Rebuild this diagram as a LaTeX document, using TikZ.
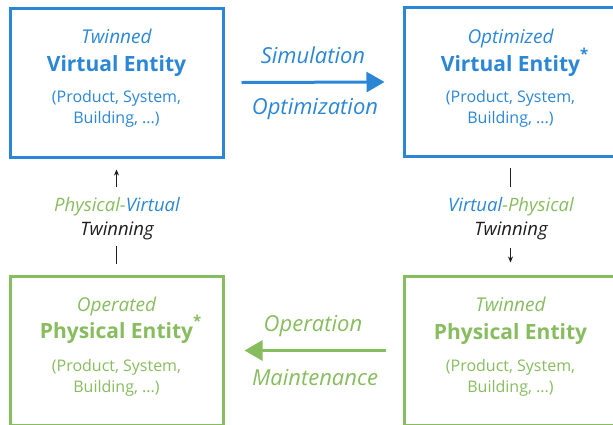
\documentclass[tikz,border=0pt]{standalone}
\usepackage{fontspec}
\setmainfont{Open Sans}
\usetikzlibrary{arrows.meta}
\definecolor{vblue}{RGB}{43,135,214}
\definecolor{pgreen}{RGB}{135,188,95}
\definecolor{ink}{RGB}{30,30,30}
\newcommand{\astmark}{\rlap{\smash{\raisebox{12pt}{\fontsize{15}{15}\selectfont\bfseries *}}}}
\begin{document}
\begin{tikzpicture}[x=1pt,y=-1pt,
 entbox/.style={draw, line width=3pt, minimum width=213pt, minimum height=149pt, inner sep=0pt},
 qual/.style={font=\fontsize{19}{22}\selectfont\itshape, inner sep=0pt, anchor=base},
 title/.style={font=\fontsize{21}{25}\selectfont\bfseries, inner sep=0pt, anchor=base},
 kinds/.style={font=\fontsize{16}{20.5}\selectfont, align=center, inner sep=0pt},
 flowlbl/.style={font=\fontsize{22}{25}\selectfont\itshape, inner sep=0pt, anchor=base},
 twinlbl/.style={font=\fontsize{18.5}{24}\selectfont\itshape, align=center, inner sep=0pt, text=ink},
 bigarrow/.style={line width=3pt, -{Triangle[length=18pt,width=20pt]}},
 smallarrow/.style={line width=0.8pt, ink, -{Stealth[length=6pt,width=5pt]}},
 smallline/.style={line width=0.8pt, ink},
]
\useasboundingbox (0,0) rectangle (613,424);
\clip (0,0) rectangle (613,424);
% boxes
\node[entbox, draw=vblue] (tl) at (116.5,82.5) {};
\node[entbox, draw=vblue] (tr) at (510.5,82) {};
\node[entbox, draw=pgreen] (bl) at (116.5,350.5) {};
\node[entbox, draw=pgreen] (br) at (510.5,350.5) {};
% top-left text
\node[qual, text=vblue] (tlq) at (116.5,43.5) {Twinned};
\node[title, text=vblue] (tlt) at (116.5,71) {Virtual Entity};
\node[kinds, text=vblue] (tlk) at (116.5,109) {(Product, System,\\Building, ...)};
% top-right text
\node[qual, text=vblue] (trq) at (510.5,43.5) {Optimized};
\node[title, text=vblue] (trt) at (510.5,71) {Virtual Entity\astmark};
\node[kinds, text=vblue] (trk) at (510.5,109) {(Product, System,\\Building, ...)};
% bottom-left text
\node[qual, text=pgreen] (blq) at (116.5,311.5) {Operated};
\node[title, text=pgreen] (blt) at (116.5,338.5) {Physical Entity\astmark};
\node[kinds, text=pgreen] (blk) at (116.5,378) {(Product, System,\\Building, ...)};
% bottom-right text
\node[qual, text=pgreen] (brq) at (510.5,311.5) {Twinned};
\node[title, text=pgreen] (brt) at (510.5,339) {Physical Entity};
\node[kinds, text=pgreen] (brk) at (510.5,378) {(Product, System,\\Building, ...)};
% horizontal arrows
\draw[bigarrow, vblue] ([xshift=17pt]tl.east) -- ([xshift=-18pt]tr.west);
\node[flowlbl, text=vblue] (sim) at (313,63) {Simulation};
\node[flowlbl, text=vblue] (opt) at (315,114) {Optimization};
\draw[bigarrow, pgreen] ([xshift=-17pt]br.west) -- ([xshift=20pt]bl.east);
\node[flowlbl, text=pgreen] (oper) at (313,331) {Operation};
\node[flowlbl, text=pgreen] (maint) at (315,385) {Maintenance};
% vertical connectors
\node[twinlbl] (pv) at (117,218.5) {{\color{pgreen}Physical-}{\color{vblue}Virtual}\\Twinning};
\draw[smallarrow] ([yshift=-28pt]tl.south) -- ([yshift=-11pt]tl.south);
\draw[smallline] ([yshift=11pt]bl.north) -- ([yshift=29pt]bl.north);
\node[twinlbl] (vp) at (511,218.5) {{\color{vblue}Virtual}{\color{pgreen}-Physical}\\Twinning};
\draw[smallline] ([yshift=-10pt]tr.south) -- ([yshift=-29pt]tr.south);
\draw[smallarrow] ([yshift=27pt]br.north) -- ([yshift=12pt]br.north);
\end{tikzpicture}
\end{document}
